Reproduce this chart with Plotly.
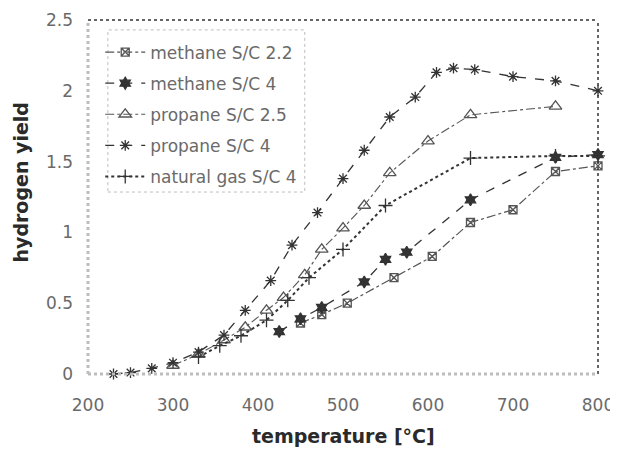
import plotly.graph_objects as go

# ---- data ----
series_names = ["methane S/C 2.2", "methane S/C 4", "propane S/C 2.5", "propane S/C 4", "natural gas S/C 4"]

methane22_t = [450, 475, 505, 560, 605, 650, 700, 750, 800]
methane22_y = [0.36, 0.42, 0.50, 0.68, 0.83, 1.07, 1.16, 1.43, 1.47]

methane4_t = [425, 450, 475, 525, 550, 575, 650, 750, 800]
methane4_y = [0.30, 0.39, 0.47, 0.65, 0.81, 0.86, 1.23, 1.53, 1.55]

propane25_t = [300, 330, 360, 385, 410, 430, 455, 475, 500, 525, 555, 600, 650, 750]
propane25_y = [0.06, 0.14, 0.24, 0.33, 0.45, 0.54, 0.70, 0.88, 1.03, 1.19, 1.42, 1.645, 1.83, 1.89]

propane4_t = [230, 250, 275, 300, 330, 360, 385, 415, 440, 470, 500, 525, 555, 585, 610, 630, 655, 700, 750, 800]
propane4_y = [0.0, 0.01, 0.04, 0.08, 0.155, 0.275, 0.45, 0.66, 0.91, 1.14, 1.38, 1.58, 1.815, 1.956, 2.13, 2.16, 2.15, 2.10, 2.07, 2.00]

natgas4_t = [330, 355, 380, 410, 435, 460, 500, 550, 650, 750, 800]
natgas4_y = [0.12, 0.20, 0.27, 0.38, 0.52, 0.68, 0.88, 1.19, 1.525, 1.54, 1.54]

x_ticks = [200, 300, 400, 500, 600, 700, 800]
y_ticks = [0, 0.5, 1, 1.5, 2, 2.5]

x_title = "temperature [°C]"
y_title = "hydrogen yield"

# ---- styles ----
styles = [
    dict(symbol="square-x-open", size=8, color="#555", dash="dashdot", width=1.2),
    dict(symbol="hexagram", size=9, color="#333", dash="dash", width=1.3),
    dict(symbol="triangle-up-open", size=11, color="#555", dash="dashdot", width=1.1),
    dict(symbol="asterisk-open", size=9, color="#333", dash="dash", width=1.3),
    dict(symbol="cross-thin-open", size=10, color="#333", dash="dot", width=2),
]
data = [
    (methane22_t, methane22_y),
    (methane4_t, methane4_y),
    (propane25_t, propane25_y),
    (propane4_t, propane4_y),
    (natgas4_t, natgas4_y),
]

fig = go.Figure()
for i, (name, (xs, ys), st) in enumerate(zip(series_names, data, styles)):
    fig.add_trace(go.Scatter(
        x=xs, y=ys, name=name, mode="lines+markers",
        legendgroup=f"g{i}",
        line=dict(color=st["color"], dash=st["dash"], width=st["width"]),
        marker=dict(symbol=st["symbol"], size=st["size"], color=st["color"],
                    line=dict(color=st["color"], width=1.3)),
        cliponaxis=False,
    ))

font_fam = "DejaVu Sans, Arial, sans-serif"

# the page body adds an 8px margin, so the figure is shifted by 8px
fig.update_layout(
    width=610, height=441,
    margin=dict(l=80, r=20, t=12, b=75),
    paper_bgcolor="white", plot_bgcolor="white",
    font=dict(family=font_fam, size=17, color="#6a6a6a"),
    showlegend=True,
    legend=dict(
        x=0.024, y=0.959, xanchor="left", yanchor="top",
        bgcolor="rgba(0,0,0,0)", borderwidth=0,
        font=dict(family=font_fam, size=17, color="#6a6a6a"),
        itemwidth=40, traceorder="grouped", tracegroupgap=6,
    ),
    xaxis=dict(
        range=[200, 800], tickvals=x_ticks, showgrid=False, zeroline=False,
        showline=False, ticks="", ticklabelstandoff=19, automargin=False,
        tickfont=dict(family=font_fam, size=17, color="#6a6a6a"),
    ),
    yaxis=dict(
        range=[0, 2.5], tickvals=y_ticks, showgrid=False, zeroline=False,
        showline=False, ticks="", ticklabelstandoff=14, automargin=False,
        tickfont=dict(family=font_fam, size=17, color="#6a6a6a"),
    ),
    shapes=[
        dict(type="line", xref="paper", yref="paper", x0=0, x1=0, y0=0, y1=1,
             line=dict(color="#bdbdbd", width=3, dash="dot")),
        dict(type="line", xref="paper", yref="paper", x0=0, x1=1, y0=0, y1=0,
             line=dict(color="#bdbdbd", width=3, dash="dot")),
        dict(type="line", xref="paper", yref="paper", x0=0, x1=1, y0=1, y1=1,
             line=dict(color="#333", width=1.5, dash="dot")),
        dict(type="line", xref="paper", yref="paper", x0=1, x1=1, y0=0, y1=1,
             line=dict(color="#333", width=1.5, dash="dot")),
        dict(type="rect", xref="paper", yref="paper", x0=0.039, x1=0.425, y0=0.514, y1=0.972,
             line=dict(color="#bdbdbd", width=1, dash="dot")),
    ],
    annotations=[
        dict(text=f"<b>{x_title}</b>", xref="paper", yref="paper", x=0.5, y=-0.175,
             xanchor="center", yanchor="middle", showarrow=False,
             font=dict(family=font_fam, size=19, color="#2a2a2a")),
        dict(text=f"<b>{y_title}</b>", xref="paper", yref="paper", x=-0.132, y=0.54,
             xanchor="center", yanchor="middle", showarrow=False, textangle=-90,
             font=dict(family=font_fam, size=19, color="#2a2a2a")),
    ],
)

fig.write_html("out.html")
